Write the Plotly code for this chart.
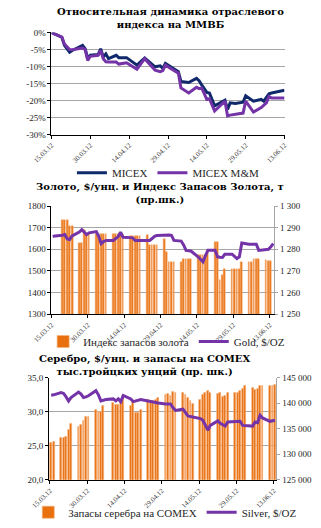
import pandas as pd
import plotly.graph_objects as go

DAY = 86400000

# ---------------- Panel 1: relative dynamics ----------------
p1_dates = ['2012-03-15', '2012-03-19', '2012-03-20', '2012-03-22', '2012-03-23', '2012-03-27',
            '2012-03-28', '2012-03-29', '2012-03-30', '2012-04-02', '2012-04-03', '2012-04-04',
            '2012-04-05', '2012-04-06', '2012-04-09', '2012-04-10', '2012-04-13', '2012-04-17',
            '2012-04-20', '2012-04-24', '2012-04-26', '2012-04-27', '2012-04-28', '2012-05-03',
            '2012-05-04', '2012-05-07', '2012-05-10', '2012-05-11', '2012-05-12', '2012-05-14',
            '2012-05-15', '2012-05-17', '2012-05-21', '2012-05-22', '2012-05-23', '2012-05-25',
            '2012-05-28', '2012-05-29', '2012-06-01', '2012-06-04', '2012-06-05', '2012-06-06',
            '2012-06-07', '2012-06-08', '2012-06-13']
micex = [0, -1.4, -3.8, -5.8, -5.3, -3.8, -4.8, -7.7, -6.7, -6.5, -4.8, -7.2, -6.3, -7.7, -6.7,
         -7.4, -7.4, -9.6, -7.5, -10.1, -9.8, -10.6, -9.1, -11.5, -14.4, -14.7, -13.5, -14.2, -15.4,
         -17.6, -17.8, -21.6, -19.9, -22.6, -20.7, -20.9, -20.5, -18.6, -20.2, -19.7, -20.2, -18.9,
         -18.0, -17.8, -17.0]
micex_mm = [0, -1.4, -3.4, -5.0, -5.1, -4.6, -5.0, -8.2, -7.0, -6.7, -5.3, -7.7, -8.6, -8.7, -8.7,
            -9.3, -8.9, -10.8, -7.7, -11.1, -11.5, -11.2, -9.6, -12.0, -16.3, -17.8, -16.1, -16.5,
            -16.3, -19.7, -19.5, -23.1, -20.2, -24.5, -24.3, -24.0, -23.7, -20.2, -23.4, -22.1,
            -21.5, -20.7, -18.8, -19.3, -19.3]
pct_vals = [0, -5, -10, -15, -20, -25, -30]
pct_text = ['0%', '-5%', '-10%', '-15%', '-20%', '-25%', '-30%']

# ---------------- Panel 2: gold ----------------
gold_bar_dates = [d.strftime('%Y-%m-%d') for d in pd.bdate_range('2012-03-19', '2012-06-13')]
gold_stock = [1293.5, 1293.5, 1293.5, 1290.9, 1290.9,
              1283.0, 1283.0, 1289.0, 1287.0, 1287.0,
              1286.8, 1286.8, 1286.8, 1286.8, 1286.8,
              1286.8, 1286.8, 1286.8, 1286.8, 1286.8,
              1286.2, 1286.2, 1286.2, 1286.2, 1286.2,
              1286.4, 1282.1, 1282.1, 1282.1, 1282.1,
              1284.8, 1278.8, 1274.2, 1274.2, 1274.2,
              1274.2, 1275.3, 1275.3, 1275.3, 1275.3,
              1277.3, 1277.3, 1277.3, 1277.3, 1278.5,
              1283.2, 1283.2, 1265.6, 1268.2, 1270.8,
              1270.8, 1270.8, 1270.8, 1270.8, 1274.2,
              1274.2, 1274.2, 1275.5, 1275.5, 1275.5,
              1275.0, 1274.5, 1274.5]
gold_price_dates = [d.strftime('%Y-%m-%d') for d in pd.bdate_range('2012-03-15', '2012-06-14')]
gold_price = [1659, 1662,
              1665, 1668, 1648, 1645, 1662,
              1680, 1691, 1678, 1668, 1676,
              1682, 1660, 1626, 1636, 1641,
              1641, 1650, 1659, 1679, 1656,
              1654, 1653, 1641, 1641, 1641,
              1641, 1641, 1650, 1660, 1664,
              1667, 1668, 1666, 1664, 1641,
              1638, 1620, 1595, 1594, 1592,
              1565, 1555, 1542, 1570, 1595,
              1595, 1565, 1563, 1562, 1577,
              1577, 1567, 1557, 1565, 1629,
              1623, 1623, 1623, 1623, 1595,
              1598, 1600, 1612, 1626]

# ---------------- Panel 3: silver ----------------
silver_bar_dates = [d.strftime('%Y-%m-%d') for d in pd.bdate_range('2012-03-15', '2012-06-13')
                    if d.strftime('%Y-%m-%d') != '2012-04-06']
silver_stock = [132300, 132450,
                133300, 133150, 133450, 134750, 136000,
                135400, 135800, 136500, 137300, 137300,
                138650, 138400, 138400, 139550,
                140100, 139750, 139750, 140200, 141500,
                139600, 140400, 138200, 138200, 138800,
                140770, 140580, 140580, 140770, 141150,
                141600, 141900, 141500, 142200, 142100,
                142000, 141650, 141100, 140550, 140000,
                140650, 141600, 142150, 142450, 142000,
                141850, 142000, 141200, 141500, 142100,
                142100, 142100, 142500, 142900, 143400,
                143000, 142650, 142900, 143500, 143500,
                143500, 143500, 143650]
silver_price_dates = [d.strftime('%Y-%m-%d') for d in pd.bdate_range('2012-03-15', '2012-06-13')]
silver_price = [32.45, 32.5,
                32.84, 32.7, 32.2, 31.6, 32.1,
                32.9, 32.6, 32.1, 32.2, 32.36,
                33.1, 32.5, 31.6, 31.7, 31.8,
                31.9, 31.6, 31.9, 31.5, 32.4,
                31.9, 31.5, 31.6, 31.7, 31.8,
                31.6, 31.5, 31.4, 31.3, 31.3,
                31.15, 31.2, 31.15, 30.6, 30.2,
                30.4, 29.9, 29.4, 29.3, 29.2,
                29.0, 28.75, 28.0, 27.3, 28.0,
                28.65, 28.3, 28.1, 27.9, 28.5,
                28.5, 28.6, 28.6, 28.0, 28.0,
                27.9, 28.5, 28.4, 29.5, 29.1,
                28.6, 28.7, 28.75]

NAVY = '#10296b'
PURPLE = '#7434a8'
ORANGE = '#e8700f'
ORANGE_L = '#f6b47c'
GRID = '#a6a6a6'
TXT = '#262626'
SERIF = 'Liberation Serif'
W, H = 321, 528


def px(v):
    return v / W


def py(v):
    return 1 - v / H


half_day = pd.Timedelta(hours=12)

fig = go.Figure()

# Panel 1
fig.add_trace(go.Scatter(x=p1_dates, y=micex, name='MICEX', mode='lines',
                         line=dict(color=NAVY, width=3), xaxis='x', yaxis='y', legend='legend'))
fig.add_trace(go.Scatter(x=p1_dates, y=micex_mm, name='MICEX M&M', mode='lines',
                         line=dict(color=PURPLE, width=3), xaxis='x', yaxis='y', legend='legend'))

# Panel 2
fig.add_trace(go.Bar(x=gold_bar_dates, y=gold_stock, name='Индекс запасов золота',
                     marker=dict(color=ORANGE, line=dict(color=ORANGE_L, width=0.6)),
                     width=0.74 * DAY, offset=0.13 * DAY,
                     xaxis='x2', yaxis='y2', legend='legend2'))
fig.add_trace(go.Scatter(x=pd.to_datetime(gold_price_dates) + half_day, y=gold_price,
                         name='Gold, $/OZ', mode='lines',
                         line=dict(color=PURPLE, width=3), xaxis='x2', yaxis='y3', legend='legend2'))

# Panel 3
fig.add_trace(go.Bar(x=silver_bar_dates, y=silver_stock,
                     name='Запасы серебра на COMEX',
                     marker=dict(color=ORANGE, line=dict(color=ORANGE_L, width=0.6)),
                     width=0.74 * DAY, offset=0.13 * DAY,
                     xaxis='x3', yaxis='y4', legend='legend3'))
fig.add_trace(go.Scatter(x=pd.to_datetime(silver_price_dates) + half_day, y=silver_price,
                         name='Silver, $/OZ', mode='lines',
                         line=dict(color=PURPLE, width=3), xaxis='x3', yaxis='y5', legend='legend3'))

tickfont_x = dict(family=SERIF, size=7, color='#404040')
tickfont_y = dict(family=SERIF, size=9, color=TXT)

xcommon = dict(type='date', tick0='2012-03-15', dtick=15 * DAY, tickformat='%d.%m.%y',
               tickangle=-45, showline=True, linecolor='#000000', linewidth=1,
               ticks='outside', ticklen=3, tickcolor='#000000', showgrid=False,
               tickfont=tickfont_x, zeroline=False)

legend_font = dict(family=SERIF, size=11, color=TXT)

fig.update_layout(
    width=W, height=H, margin=dict(l=0, r=0, t=0, b=0),
    paper_bgcolor='white', plot_bgcolor='white',
    separators=', ', barmode='overlay', bargap=0,
    xaxis=dict(domain=[px(35), px(286)], anchor='y',
               range=['2012-03-15', '2012-06-13'], **xcommon),
    yaxis=dict(domain=[py(132), py(28)], anchor='x', range=[-30, 0],
               tickvals=pct_vals, ticktext=pct_text, showgrid=True, gridcolor=GRID,
               showline=True, linecolor='#000000', ticks='outside', ticklen=3,
               tickcolor='#000000', tickfont=tickfont_y, zeroline=False),
    xaxis2=dict(domain=[px(35), px(275)], anchor='y2',
                range=['2012-03-15', '2012-06-14 22:00'], **xcommon),
    yaxis2=dict(domain=[py(315), py(205)], anchor='x2', side='right', range=[1250, 1300],
                dtick=10, tickformat=',d', showgrid=False, showline=True, linecolor=GRID,
                ticks='outside', ticklen=3, tickcolor=GRID, tickfont=tickfont_y, zeroline=False),
    yaxis3=dict(overlaying='y2', anchor='x2', side='left', range=[1300, 1800], dtick=100,
                tickformat='d', showgrid=True, gridcolor=GRID, showline=True,
                linecolor='#000000', ticks='outside', ticklen=3, tickcolor='#000000',
                tickfont=tickfont_y, zeroline=False),
    xaxis3=dict(domain=[px(32.3), px(277.3)], anchor='y4',
                range=['2012-03-14 15:00', '2012-06-14 02:00'], **xcommon),
    yaxis4=dict(domain=[py(484), py(380)], anchor='x3', side='right', range=[125000, 145000],
                dtick=5000, tickformat=',d', showgrid=False, showline=True, linecolor=GRID,
                ticks='outside', ticklen=3, tickcolor=GRID, tickfont=tickfont_y, zeroline=False),
    yaxis5=dict(overlaying='y4', anchor='x3', side='left', range=[20, 35], dtick=5,
                tickformat='.1f', showgrid=True, gridcolor=GRID, showline=True,
                linecolor='#000000', ticks='outside', ticklen=3, tickcolor='#000000',
                tickfont=tickfont_y, zeroline=False),
    legend=dict(orientation='h', x=px(57), xanchor='left', y=py(171), yanchor='middle',
                font=legend_font, bgcolor='rgba(0,0,0,0)', itemwidth=30),
    legend2=dict(orientation='h', x=px(26), xanchor='left', y=py(343), yanchor='middle',
                 font=legend_font, bgcolor='rgba(0,0,0,0)', itemwidth=30),
    legend3=dict(orientation='h', x=px(10), xanchor='left', y=py(517), yanchor='middle',
                 font=legend_font, bgcolor='rgba(0,0,0,0)', itemwidth=30),
    showlegend=True,
)

title_font = dict(family='DejaVu Serif', size=10, color='#000000')
titles = [
    ('<b>Относительная динамика отраслевого<br>индекса на ММВБ</b>', 163, 13.2),
    ('<b>Золото, $/унц. и Индекс Запасов Золота, т<br>(пр.шк.)</b>', 152, 191.5),
    ('<b>Серебро, $/унц. и запасы на COMEX<br>тыс.тройцких унций (пр. шк.)</b>', 135, 367),
]
for txt, cx, cy in titles:
    fig.add_annotation(text=txt, xref='paper', yref='paper', x=px(cx), y=py(cy),
                       xanchor='center', yanchor='middle', showarrow=False, font=title_font,
                       align='center')

fig.write_html('out.html')
